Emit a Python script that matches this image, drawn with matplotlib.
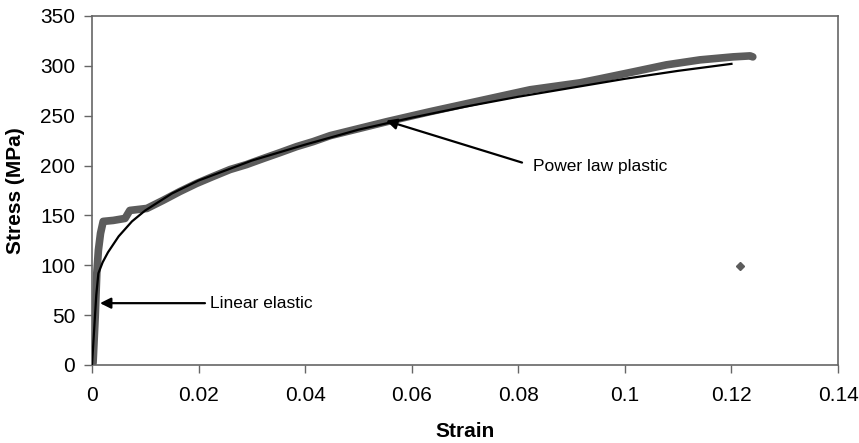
import matplotlib
matplotlib.use('Agg')
import matplotlib.pyplot as plt

plt.rcParams['font.family'] = ['Liberation Sans', 'DejaVu Sans']

# ── Data ────────────────────────────────────────────────────────────────────
# experimental stress-strain record (grey band)
exp_strain = [0.0, 0.0002, 0.0006, 0.0009, 0.0012, 0.0016, 0.0021, 0.004,
              0.0062, 0.0071, 0.0103, 0.0133, 0.0165, 0.0196, 0.0227, 0.0259,
              0.029, 0.0321, 0.0353, 0.0384, 0.0415, 0.0447, 0.0553, 0.0634,
              0.0728, 0.0822, 0.0916, 0.0953, 0.1016, 0.1078, 0.1141, 0.1203,
              0.1235, 0.124]
exp_stress = [0, 2, 48, 92, 115, 132, 144, 145,
              147, 155, 157, 165, 174, 182, 189, 196,
              201, 207, 213, 219, 224, 230, 244, 254,
              265, 276, 283, 287, 294, 301, 306, 309,
              310, 309]

# single stray reading
stray_strain = [0.1216]
stray_stress = [99]

# linear elastic + power law plastic model (black line)
fit_strain = [0.0, 0.0004, 0.0008, 0.0012, 0.002, 0.003, 0.005, 0.0075, 0.01,
              0.015, 0.02, 0.03, 0.04, 0.05, 0.06, 0.07, 0.08, 0.09, 0.10,
              0.11, 0.12]
fit_stress = [0, 35, 70, 92, 103, 113, 129, 144, 155,
              172, 185, 205, 221, 236, 248, 259, 269, 278, 287,
              295, 302]

# ── Figure ──────────────────────────────────────────────────────────────────
fig = plt.figure(figsize=(8.59, 4.43), dpi=100)
ax = fig.add_axes([0.1071, 0.1761, 0.8685, 0.7878])

ax.plot(exp_strain, exp_stress, color='#5c5c5c', linewidth=5.5,
        solid_capstyle='round', solid_joinstyle='round', zorder=2)
ax.plot(stray_strain, stray_stress, linestyle='none', marker='D',
        markersize=4, color='#5c5c5c', zorder=2)
ax.plot(fit_strain, fit_stress, color='black', linewidth=1.6, zorder=3)

# annotations
arrow = dict(arrowstyle='-|>', color='black', lw=1.6, mutation_scale=16,
             shrinkA=0, shrinkB=0)
ax.annotate('', xy=(0.0015, 62), xytext=(0.0212, 62), arrowprops=arrow,
            zorder=4)
ax.text(0.0222, 62, 'Linear elastic', fontsize=12.5, va='center', ha='left')
ax.annotate('', xy=(0.0552, 245), xytext=(0.0807, 203), arrowprops=arrow,
            zorder=4)
ax.text(0.0828, 199, 'Power law plastic', fontsize=12.5, va='center',
        ha='left')

ax.set_xlim(0, 0.14)
ax.set_ylim(0, 350)
ax.set_xticks([0, 0.02, 0.04, 0.06, 0.08, 0.10, 0.12, 0.14])
ax.set_xticklabels(['0', '0.02', '0.04', '0.06', '0.08', '0.1', '0.12', '0.14'])
ax.set_yticks(range(0, 351, 50))

ax.set_xlabel('Strain', fontsize=15, fontweight='bold')
ax.set_ylabel('Stress (MPa)', fontsize=15, fontweight='bold')
ax.xaxis.set_label_coords(0.5, -0.192)
ax.xaxis.label.set_va('center')
ax.yaxis.set_label_coords(-0.103, 0.5)
ax.yaxis.label.set_va('center')

for sp in ax.spines.values():
    sp.set_color('#666666')
    sp.set_linewidth(1.2)
ax.tick_params(direction='out', length=6, width=1.0, color='#666666',
               labelsize=15)
ax.tick_params(axis='x', pad=9)
ax.tick_params(axis='y', pad=6)

fig.savefig('out.png', dpi=100)
